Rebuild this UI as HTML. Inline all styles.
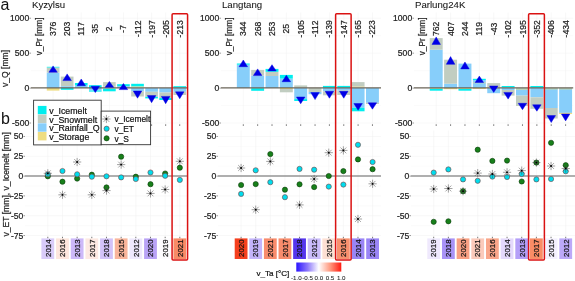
<!DOCTYPE html>
<html><head><meta charset="utf-8"><style>
html,body{margin:0;padding:0;background:#fff;}
body{width:575px;height:281px;overflow:hidden;}
svg{display:block;font-family:"Liberation Sans", sans-serif;will-change:transform;}
text{stroke-width:0.2px;}
</style></head><body>
<svg width="575" height="281" viewBox="0 0 575 281">
<rect width="575" height="281" fill="#fff"/>
<line x1="31" y1="35.7" x2="187" y2="35.7" stroke="#f7f7f7" stroke-width="0.5"/>
<line x1="31" y1="70.63" x2="187" y2="70.63" stroke="#f7f7f7" stroke-width="0.5"/>
<line x1="31" y1="105.57" x2="187" y2="105.57" stroke="#f7f7f7" stroke-width="0.5"/>
<line x1="31" y1="18.23" x2="187" y2="18.23" stroke="#f0f0f0" stroke-width="0.5"/>
<line x1="31" y1="53.16" x2="187" y2="53.16" stroke="#f0f0f0" stroke-width="0.5"/>
<line x1="31" y1="123.03" x2="187" y2="123.03" stroke="#f0f0f0" stroke-width="0.5"/>
<line x1="53.1" y1="12.5" x2="53.1" y2="124.5" stroke="#f0f0f0" stroke-width="0.5"/>
<line x1="67.17" y1="12.5" x2="67.17" y2="124.5" stroke="#f0f0f0" stroke-width="0.5"/>
<line x1="81.24" y1="12.5" x2="81.24" y2="124.5" stroke="#f0f0f0" stroke-width="0.5"/>
<line x1="95.31" y1="12.5" x2="95.31" y2="124.5" stroke="#f0f0f0" stroke-width="0.5"/>
<line x1="109.38" y1="12.5" x2="109.38" y2="124.5" stroke="#f0f0f0" stroke-width="0.5"/>
<line x1="123.45" y1="12.5" x2="123.45" y2="124.5" stroke="#f0f0f0" stroke-width="0.5"/>
<line x1="137.52" y1="12.5" x2="137.52" y2="124.5" stroke="#f0f0f0" stroke-width="0.5"/>
<line x1="151.59" y1="12.5" x2="151.59" y2="124.5" stroke="#f0f0f0" stroke-width="0.5"/>
<line x1="165.66" y1="12.5" x2="165.66" y2="124.5" stroke="#f0f0f0" stroke-width="0.5"/>
<line x1="179.73" y1="12.5" x2="179.73" y2="124.5" stroke="#f0f0f0" stroke-width="0.5"/>
<line x1="25" y1="146.38" x2="188" y2="146.38" stroke="#f7f7f7" stroke-width="0.5"/>
<line x1="25" y1="166.19" x2="188" y2="166.19" stroke="#f7f7f7" stroke-width="0.5"/>
<line x1="25" y1="186.01" x2="188" y2="186.01" stroke="#f7f7f7" stroke-width="0.5"/>
<line x1="25" y1="205.82" x2="188" y2="205.82" stroke="#f7f7f7" stroke-width="0.5"/>
<line x1="25" y1="225.63" x2="188" y2="225.63" stroke="#f7f7f7" stroke-width="0.5"/>
<line x1="25" y1="136.47" x2="188" y2="136.47" stroke="#f0f0f0" stroke-width="0.5"/>
<line x1="25" y1="156.29" x2="188" y2="156.29" stroke="#f0f0f0" stroke-width="0.5"/>
<line x1="25" y1="195.91" x2="188" y2="195.91" stroke="#f0f0f0" stroke-width="0.5"/>
<line x1="25" y1="215.72" x2="188" y2="215.72" stroke="#f0f0f0" stroke-width="0.5"/>
<line x1="25" y1="235.54" x2="188" y2="235.54" stroke="#f0f0f0" stroke-width="0.5"/>
<line x1="47.8" y1="130.5" x2="47.8" y2="237" stroke="#f0f0f0" stroke-width="0.5"/>
<line x1="62.47" y1="130.5" x2="62.47" y2="237" stroke="#f0f0f0" stroke-width="0.5"/>
<line x1="77.14" y1="130.5" x2="77.14" y2="237" stroke="#f0f0f0" stroke-width="0.5"/>
<line x1="91.81" y1="130.5" x2="91.81" y2="237" stroke="#f0f0f0" stroke-width="0.5"/>
<line x1="106.48" y1="130.5" x2="106.48" y2="237" stroke="#f0f0f0" stroke-width="0.5"/>
<line x1="121.15" y1="130.5" x2="121.15" y2="237" stroke="#f0f0f0" stroke-width="0.5"/>
<line x1="135.82" y1="130.5" x2="135.82" y2="237" stroke="#f0f0f0" stroke-width="0.5"/>
<line x1="150.49" y1="130.5" x2="150.49" y2="237" stroke="#f0f0f0" stroke-width="0.5"/>
<line x1="165.16" y1="130.5" x2="165.16" y2="237" stroke="#f0f0f0" stroke-width="0.5"/>
<line x1="179.83" y1="130.5" x2="179.83" y2="237" stroke="#f0f0f0" stroke-width="0.5"/>
<text x="32" y="8.2" font-size="9.65" text-anchor="start" fill="#111" stroke="#111" style="stroke-width:0.05px">Kyzylsu</text>
<line x1="29.4" y1="18.23" x2="31" y2="18.23" stroke="#555555" stroke-width="0.6"/>
<text x="29.2" y="21.23" font-size="8.6" text-anchor="end" fill="#1a1a1a" stroke="#1a1a1a">1000</text>
<line x1="29.4" y1="53.16" x2="31" y2="53.16" stroke="#555555" stroke-width="0.6"/>
<text x="29.2" y="56.16" font-size="8.6" text-anchor="end" fill="#1a1a1a" stroke="#1a1a1a">500</text>
<line x1="29.4" y1="88.1" x2="31" y2="88.1" stroke="#555555" stroke-width="0.6"/>
<text x="29.2" y="91.1" font-size="8.6" text-anchor="end" fill="#1a1a1a" stroke="#1a1a1a">0</text>
<line x1="29.4" y1="123.03" x2="31" y2="123.03" stroke="#555555" stroke-width="0.6"/>
<text x="29.2" y="126.03" font-size="8.6" text-anchor="end" fill="#1a1a1a" stroke="#1a1a1a">-500</text>
<line x1="53.1" y1="124.3" x2="53.1" y2="125.9" stroke="#555555" stroke-width="0.8"/>
<line x1="67.17" y1="124.3" x2="67.17" y2="125.9" stroke="#555555" stroke-width="0.8"/>
<line x1="81.24" y1="124.3" x2="81.24" y2="125.9" stroke="#555555" stroke-width="0.8"/>
<line x1="95.31" y1="124.3" x2="95.31" y2="125.9" stroke="#555555" stroke-width="0.8"/>
<line x1="109.38" y1="124.3" x2="109.38" y2="125.9" stroke="#555555" stroke-width="0.8"/>
<line x1="123.45" y1="124.3" x2="123.45" y2="125.9" stroke="#555555" stroke-width="0.8"/>
<line x1="137.52" y1="124.3" x2="137.52" y2="125.9" stroke="#555555" stroke-width="0.8"/>
<line x1="151.59" y1="124.3" x2="151.59" y2="125.9" stroke="#555555" stroke-width="0.8"/>
<line x1="165.66" y1="124.3" x2="165.66" y2="125.9" stroke="#555555" stroke-width="0.8"/>
<line x1="179.73" y1="124.3" x2="179.73" y2="125.9" stroke="#555555" stroke-width="0.8"/>
<line x1="23.4" y1="136.47" x2="25" y2="136.47" stroke="#555555" stroke-width="0.6"/>
<text x="23.3" y="139.47" font-size="8.6" text-anchor="end" fill="#1a1a1a" stroke="#1a1a1a">50</text>
<line x1="23.4" y1="156.29" x2="25" y2="156.29" stroke="#555555" stroke-width="0.6"/>
<text x="23.3" y="159.29" font-size="8.6" text-anchor="end" fill="#1a1a1a" stroke="#1a1a1a">25</text>
<line x1="23.4" y1="176.1" x2="25" y2="176.1" stroke="#555555" stroke-width="0.6"/>
<text x="23.3" y="179.1" font-size="8.6" text-anchor="end" fill="#1a1a1a" stroke="#1a1a1a">0</text>
<line x1="23.4" y1="195.91" x2="25" y2="195.91" stroke="#555555" stroke-width="0.6"/>
<text x="23.3" y="198.91" font-size="8.6" text-anchor="end" fill="#1a1a1a" stroke="#1a1a1a">-25</text>
<line x1="23.4" y1="215.72" x2="25" y2="215.72" stroke="#555555" stroke-width="0.6"/>
<text x="23.3" y="218.72" font-size="8.6" text-anchor="end" fill="#1a1a1a" stroke="#1a1a1a">-50</text>
<line x1="23.4" y1="235.54" x2="25" y2="235.54" stroke="#555555" stroke-width="0.6"/>
<text x="23.3" y="238.54" font-size="8.6" text-anchor="end" fill="#1a1a1a" stroke="#1a1a1a">-75</text>
<line x1="47.8" y1="236.8" x2="47.8" y2="238.4" stroke="#555555" stroke-width="0.8"/>
<line x1="62.47" y1="236.8" x2="62.47" y2="238.4" stroke="#555555" stroke-width="0.8"/>
<line x1="77.14" y1="236.8" x2="77.14" y2="238.4" stroke="#555555" stroke-width="0.8"/>
<line x1="91.81" y1="236.8" x2="91.81" y2="238.4" stroke="#555555" stroke-width="0.8"/>
<line x1="106.48" y1="236.8" x2="106.48" y2="238.4" stroke="#555555" stroke-width="0.8"/>
<line x1="121.15" y1="236.8" x2="121.15" y2="238.4" stroke="#555555" stroke-width="0.8"/>
<line x1="135.82" y1="236.8" x2="135.82" y2="238.4" stroke="#555555" stroke-width="0.8"/>
<line x1="150.49" y1="236.8" x2="150.49" y2="238.4" stroke="#555555" stroke-width="0.8"/>
<line x1="165.16" y1="236.8" x2="165.16" y2="238.4" stroke="#555555" stroke-width="0.8"/>
<line x1="179.83" y1="236.8" x2="179.83" y2="238.4" stroke="#555555" stroke-width="0.8"/>
<text x="41.93" y="36.4" font-size="8.3" text-anchor="middle" fill="#1a1a1a" stroke="#1a1a1a" transform="rotate(-90 41.93 36.4)">v_Pr [mm]</text>
<text x="56.15" y="28.8" font-size="8.6" text-anchor="middle" fill="#1a1a1a" stroke="#1a1a1a" transform="rotate(-90 56.15 28.8)">376</text>
<text x="70.22" y="28.8" font-size="8.6" text-anchor="middle" fill="#1a1a1a" stroke="#1a1a1a" transform="rotate(-90 70.22 28.8)">203</text>
<text x="84.29" y="28.8" font-size="8.6" text-anchor="middle" fill="#1a1a1a" stroke="#1a1a1a" transform="rotate(-90 84.29 28.8)">117</text>
<text x="98.36" y="28.8" font-size="8.6" text-anchor="middle" fill="#1a1a1a" stroke="#1a1a1a" transform="rotate(-90 98.36 28.8)">35</text>
<text x="112.43" y="28.8" font-size="8.6" text-anchor="middle" fill="#1a1a1a" stroke="#1a1a1a" transform="rotate(-90 112.43 28.8)">2</text>
<text x="126.5" y="28.8" font-size="8.6" text-anchor="middle" fill="#1a1a1a" stroke="#1a1a1a" transform="rotate(-90 126.5 28.8)">-7</text>
<text x="140.57" y="28.8" font-size="8.6" text-anchor="middle" fill="#1a1a1a" stroke="#1a1a1a" transform="rotate(-90 140.57 28.8)">-112</text>
<text x="154.64" y="28.8" font-size="8.6" text-anchor="middle" fill="#1a1a1a" stroke="#1a1a1a" transform="rotate(-90 154.64 28.8)">-197</text>
<text x="168.71" y="28.8" font-size="8.6" text-anchor="middle" fill="#1a1a1a" stroke="#1a1a1a" transform="rotate(-90 168.71 28.8)">-205</text>
<text x="182.78" y="28.8" font-size="8.6" text-anchor="middle" fill="#1a1a1a" stroke="#1a1a1a" transform="rotate(-90 182.78 28.8)">-213</text>
<rect x="46.77" y="72.6" width="12.66" height="15.4" fill="#87CEFA"/>
<rect x="46.77" y="67.5" width="12.66" height="5.1" fill="#C1CDC1"/>
<rect x="46.77" y="66.8" width="12.66" height="0.7" fill="#00EEEE"/>
<rect x="46.77" y="88" width="12.66" height="2.6" fill="#EEDD82"/>
<rect x="60.84" y="86.2" width="12.66" height="1.8" fill="#87CEFA"/>
<rect x="60.84" y="76.6" width="12.66" height="9.6" fill="#C1CDC1"/>
<rect x="60.84" y="88" width="12.66" height="1.8" fill="#00EEEE"/>
<rect x="74.91" y="85.5" width="12.66" height="2.5" fill="#87CEFA"/>
<rect x="74.91" y="83" width="12.66" height="2.5" fill="#00EEEE"/>
<rect x="88.98" y="85.2" width="12.66" height="2.8" fill="#00EEEE"/>
<rect x="88.98" y="88" width="12.66" height="2.5" fill="#87CEFA"/>
<rect x="88.98" y="90.5" width="12.66" height="1.1" fill="#00EEEE"/>
<rect x="103.05" y="82.1" width="12.66" height="4.7" fill="#C1CDC1"/>
<rect x="103.05" y="86.8" width="12.66" height="0.6" fill="#EEDD82"/>
<rect x="103.05" y="88.6" width="12.66" height="2.7" fill="#00EEEE"/>
<rect x="117.12" y="84.2" width="12.66" height="1.8" fill="#00EEEE"/>
<rect x="117.12" y="86" width="12.66" height="2" fill="#87CEFA"/>
<rect x="131.19" y="83.8" width="12.66" height="2.8" fill="#00EEEE"/>
<rect x="131.19" y="86.6" width="12.66" height="0.7" fill="#EEDD82"/>
<rect x="131.19" y="88" width="12.66" height="3.3" fill="#87CEFA"/>
<rect x="131.19" y="91.3" width="12.66" height="5.2" fill="#C1CDC1"/>
<rect x="145.26" y="88" width="12.66" height="3.8" fill="#87CEFA"/>
<rect x="145.26" y="91.8" width="12.66" height="5" fill="#C1CDC1"/>
<rect x="145.26" y="96.8" width="12.66" height="1.6" fill="#00EEEE"/>
<rect x="159.33" y="88" width="12.66" height="4.5" fill="#87CEFA"/>
<rect x="159.33" y="92.5" width="12.66" height="5.5" fill="#C1CDC1"/>
<rect x="159.33" y="98" width="12.66" height="2" fill="#00EEEE"/>
<rect x="173.4" y="86.2" width="12.66" height="1.5" fill="#00EEEE"/>
<rect x="173.4" y="88" width="12.66" height="3.8" fill="#87CEFA"/>
<rect x="173.4" y="91.8" width="12.66" height="3.2" fill="#C1CDC1"/>
<line x1="31" y1="87.9" x2="187" y2="87.9" stroke="#6a6558" stroke-width="1.4"/>
<polygon points="53.1,65.9 48.85,72.3 57.35,72.3" fill="#0000E6" stroke="#0000E6" stroke-width="0.45" stroke-linejoin="round"/>
<polygon points="67.17,73.9 62.92,80.6 71.42,80.6" fill="#0000E6" stroke="#0000E6" stroke-width="0.45" stroke-linejoin="round"/>
<polygon points="81.24,79 76.99,85.7 85.49,85.7" fill="#0000E6" stroke="#0000E6" stroke-width="0.45" stroke-linejoin="round"/>
<polygon points="91.06,86.2 99.56,86.2 95.31,92.6" fill="#0000E6" stroke="#0000E6" stroke-width="0.45" stroke-linejoin="round"/>
<polygon points="109.38,81.4 105.13,87.3 113.63,87.3" fill="#0000E6" stroke="#0000E6" stroke-width="0.45" stroke-linejoin="round"/>
<polygon points="123.45,83.5 119.2,89.6 127.7,89.6" fill="#0000E6" stroke="#0000E6" stroke-width="0.45" stroke-linejoin="round"/>
<polygon points="133.27,91 141.77,91 137.52,98.2" fill="#0000E6" stroke="#0000E6" stroke-width="0.45" stroke-linejoin="round"/>
<polygon points="147.34,95.6 155.84,95.6 151.59,102.7" fill="#0000E6" stroke="#0000E6" stroke-width="0.45" stroke-linejoin="round"/>
<polygon points="161.41,96.4 169.91,96.4 165.66,103.7" fill="#0000E6" stroke="#0000E6" stroke-width="0.45" stroke-linejoin="round"/>
<polygon points="175.48,91.8 183.98,91.8 179.73,98.7" fill="#0000E6" stroke="#0000E6" stroke-width="0.45" stroke-linejoin="round"/>
<line x1="25" y1="176" x2="188" y2="176" stroke="#959595" stroke-width="1.5"/>
<rect x="41.4" y="238.4" width="12.8" height="20.6" fill="#d9ccf9"/>
<text x="50.6" y="248.2" font-size="7.9" text-anchor="middle" fill="#111" stroke="#111" transform="rotate(-90 50.6 248.2)">2014</text>
<rect x="56.07" y="238.4" width="12.8" height="20.6" fill="#fde6dd"/>
<text x="65.27" y="248.2" font-size="7.9" text-anchor="middle" fill="#111" stroke="#111" transform="rotate(-90 65.27 248.2)">2016</text>
<rect x="70.74" y="238.4" width="12.8" height="20.6" fill="#cdb9f9"/>
<text x="79.94" y="248.2" font-size="7.9" text-anchor="middle" fill="#111" stroke="#111" transform="rotate(-90 79.94 248.2)">2013</text>
<rect x="85.41" y="238.4" width="12.8" height="20.6" fill="#fde9e2"/>
<text x="94.61" y="248.2" font-size="7.9" text-anchor="middle" fill="#111" stroke="#111" transform="rotate(-90 94.61 248.2)">2017</text>
<rect x="100.08" y="238.4" width="12.8" height="20.6" fill="#d3c3f9"/>
<text x="109.28" y="248.2" font-size="7.9" text-anchor="middle" fill="#111" stroke="#111" transform="rotate(-90 109.28 248.2)">2018</text>
<rect x="114.75" y="238.4" width="12.8" height="20.6" fill="#f9b59b"/>
<text x="123.95" y="248.2" font-size="7.9" text-anchor="middle" fill="#111" stroke="#111" transform="rotate(-90 123.95 248.2)">2015</text>
<rect x="129.42" y="238.4" width="12.8" height="20.6" fill="#efe9fd"/>
<text x="138.62" y="248.2" font-size="7.9" text-anchor="middle" fill="#111" stroke="#111" transform="rotate(-90 138.62 248.2)">2012</text>
<rect x="144.09" y="238.4" width="12.8" height="20.6" fill="#b9a3f6"/>
<text x="153.29" y="248.2" font-size="7.9" text-anchor="middle" fill="#111" stroke="#111" transform="rotate(-90 153.29 248.2)">2020</text>
<rect x="158.76" y="238.4" width="12.8" height="20.6" fill="#fdfcfe"/>
<text x="167.96" y="248.2" font-size="7.9" text-anchor="middle" fill="#111" stroke="#111" transform="rotate(-90 167.96 248.2)">2019</text>
<rect x="173.43" y="238.4" width="12.8" height="20.6" fill="#f98a66"/>
<text x="182.63" y="248.2" font-size="7.9" text-anchor="middle" fill="#111" stroke="#111" transform="rotate(-90 182.63 248.2)">2021</text>
<circle cx="47.8" cy="176.3" r="2.6" fill="#17801A" stroke="#0a3a0a" stroke-width="0.6"/>
<circle cx="47.8" cy="174.3" r="2.6" fill="#00DDEE" stroke="#7a4040" stroke-width="0.6"/>
<path d="M43.7 173.3L51.9 173.3M44.9 170.4L50.7 176.2M47.8 169.2L47.8 177.4M50.7 170.4L44.9 176.2" stroke="#444" stroke-width="0.5" fill="none"/>
<circle cx="47.8" cy="173.3" r="0.9" fill="#000"/>
<circle cx="62.47" cy="181.7" r="2.6" fill="#17801A" stroke="#0a3a0a" stroke-width="0.6"/>
<circle cx="62.47" cy="171" r="2.6" fill="#00DDEE" stroke="#7a4040" stroke-width="0.6"/>
<path d="M58.37 194.8L66.57 194.8M59.57 191.9L65.37 197.7M62.47 190.7L62.47 198.9M65.37 191.9L59.57 197.7" stroke="#444" stroke-width="0.5" fill="none"/>
<circle cx="62.47" cy="194.8" r="0.9" fill="#000"/>
<circle cx="77.14" cy="178.6" r="2.6" fill="#17801A" stroke="#0a3a0a" stroke-width="0.6"/>
<circle cx="77.14" cy="174.3" r="2.6" fill="#00DDEE" stroke="#7a4040" stroke-width="0.6"/>
<path d="M73.04 162L81.24 162M74.24 159.1L80.04 164.9M77.14 157.9L77.14 166.1M80.04 159.1L74.24 164.9" stroke="#444" stroke-width="0.5" fill="none"/>
<circle cx="77.14" cy="162" r="0.9" fill="#000"/>
<circle cx="91.81" cy="174.7" r="2.6" fill="#17801A" stroke="#0a3a0a" stroke-width="0.6"/>
<circle cx="91.81" cy="176.7" r="2.6" fill="#00DDEE" stroke="#7a4040" stroke-width="0.6"/>
<path d="M87.71 194.8L95.91 194.8M88.91 191.9L94.71 197.7M91.81 190.7L91.81 198.9M94.71 191.9L88.91 197.7" stroke="#444" stroke-width="0.5" fill="none"/>
<circle cx="91.81" cy="194.8" r="0.9" fill="#000"/>
<circle cx="106.48" cy="187.4" r="2.6" fill="#17801A" stroke="#0a3a0a" stroke-width="0.6"/>
<circle cx="106.48" cy="176.3" r="2.6" fill="#00DDEE" stroke="#7a4040" stroke-width="0.6"/>
<path d="M102.38 190.6L110.58 190.6M103.58 187.7L109.38 193.5M106.48 186.5L106.48 194.7M109.38 187.7L103.58 193.5" stroke="#444" stroke-width="0.5" fill="none"/>
<circle cx="106.48" cy="190.6" r="0.9" fill="#000"/>
<circle cx="121.15" cy="156.7" r="2.6" fill="#17801A" stroke="#0a3a0a" stroke-width="0.6"/>
<circle cx="121.15" cy="177.4" r="2.6" fill="#00DDEE" stroke="#7a4040" stroke-width="0.6"/>
<path d="M117.05 164.6L125.25 164.6M118.25 161.7L124.05 167.5M121.15 160.5L121.15 168.7M124.05 161.7L118.25 167.5" stroke="#444" stroke-width="0.5" fill="none"/>
<circle cx="121.15" cy="164.6" r="0.9" fill="#000"/>
<circle cx="135.82" cy="176.7" r="2.6" fill="#17801A" stroke="#0a3a0a" stroke-width="0.6"/>
<circle cx="135.82" cy="179" r="2.6" fill="#00DDEE" stroke="#7a4040" stroke-width="0.6"/>
<circle cx="150.49" cy="184.2" r="2.6" fill="#17801A" stroke="#0a3a0a" stroke-width="0.6"/>
<circle cx="150.49" cy="172.5" r="2.6" fill="#00DDEE" stroke="#7a4040" stroke-width="0.6"/>
<path d="M146.39 193.4L154.59 193.4M147.59 190.5L153.39 196.3M150.49 189.3L150.49 197.5M153.39 190.5L147.59 196.3" stroke="#444" stroke-width="0.5" fill="none"/>
<circle cx="150.49" cy="193.4" r="0.9" fill="#000"/>
<circle cx="165.16" cy="173.5" r="2.6" fill="#17801A" stroke="#0a3a0a" stroke-width="0.6"/>
<circle cx="165.16" cy="175.8" r="2.6" fill="#00DDEE" stroke="#7a4040" stroke-width="0.6"/>
<path d="M161.06 189.5L169.26 189.5M162.26 186.6L168.06 192.4M165.16 185.4L165.16 193.6M168.06 186.6L162.26 192.4" stroke="#444" stroke-width="0.5" fill="none"/>
<circle cx="165.16" cy="189.5" r="0.9" fill="#000"/>
<circle cx="179.83" cy="167.7" r="2.6" fill="#17801A" stroke="#0a3a0a" stroke-width="0.6"/>
<circle cx="179.83" cy="179.9" r="2.6" fill="#00DDEE" stroke="#7a4040" stroke-width="0.6"/>
<path d="M175.73 161.3L183.93 161.3M176.93 158.4L182.73 164.2M179.83 157.2L179.83 165.4M182.73 158.4L176.93 164.2" stroke="#444" stroke-width="0.5" fill="none"/>
<circle cx="179.83" cy="161.3" r="0.9" fill="#000"/>
<rect x="172.08" y="13.7" width="15.5" height="246.2" rx="1" fill="none" stroke="#DA1212" stroke-width="1.5"/>
<line x1="221" y1="35.7" x2="381" y2="35.7" stroke="#f7f7f7" stroke-width="0.5"/>
<line x1="221" y1="70.63" x2="381" y2="70.63" stroke="#f7f7f7" stroke-width="0.5"/>
<line x1="221" y1="105.57" x2="381" y2="105.57" stroke="#f7f7f7" stroke-width="0.5"/>
<line x1="221" y1="18.23" x2="381" y2="18.23" stroke="#f0f0f0" stroke-width="0.5"/>
<line x1="221" y1="53.16" x2="381" y2="53.16" stroke="#f0f0f0" stroke-width="0.5"/>
<line x1="221" y1="123.03" x2="381" y2="123.03" stroke="#f0f0f0" stroke-width="0.5"/>
<line x1="243.3" y1="12.5" x2="243.3" y2="124.5" stroke="#f0f0f0" stroke-width="0.5"/>
<line x1="257.65" y1="12.5" x2="257.65" y2="124.5" stroke="#f0f0f0" stroke-width="0.5"/>
<line x1="272" y1="12.5" x2="272" y2="124.5" stroke="#f0f0f0" stroke-width="0.5"/>
<line x1="286.35" y1="12.5" x2="286.35" y2="124.5" stroke="#f0f0f0" stroke-width="0.5"/>
<line x1="300.7" y1="12.5" x2="300.7" y2="124.5" stroke="#f0f0f0" stroke-width="0.5"/>
<line x1="315.05" y1="12.5" x2="315.05" y2="124.5" stroke="#f0f0f0" stroke-width="0.5"/>
<line x1="329.4" y1="12.5" x2="329.4" y2="124.5" stroke="#f0f0f0" stroke-width="0.5"/>
<line x1="343.75" y1="12.5" x2="343.75" y2="124.5" stroke="#f0f0f0" stroke-width="0.5"/>
<line x1="358.1" y1="12.5" x2="358.1" y2="124.5" stroke="#f0f0f0" stroke-width="0.5"/>
<line x1="372.45" y1="12.5" x2="372.45" y2="124.5" stroke="#f0f0f0" stroke-width="0.5"/>
<line x1="218" y1="146.38" x2="381" y2="146.38" stroke="#f7f7f7" stroke-width="0.5"/>
<line x1="218" y1="166.19" x2="381" y2="166.19" stroke="#f7f7f7" stroke-width="0.5"/>
<line x1="218" y1="186.01" x2="381" y2="186.01" stroke="#f7f7f7" stroke-width="0.5"/>
<line x1="218" y1="205.82" x2="381" y2="205.82" stroke="#f7f7f7" stroke-width="0.5"/>
<line x1="218" y1="225.63" x2="381" y2="225.63" stroke="#f7f7f7" stroke-width="0.5"/>
<line x1="218" y1="136.47" x2="381" y2="136.47" stroke="#f0f0f0" stroke-width="0.5"/>
<line x1="218" y1="156.29" x2="381" y2="156.29" stroke="#f0f0f0" stroke-width="0.5"/>
<line x1="218" y1="195.91" x2="381" y2="195.91" stroke="#f0f0f0" stroke-width="0.5"/>
<line x1="218" y1="215.72" x2="381" y2="215.72" stroke="#f0f0f0" stroke-width="0.5"/>
<line x1="218" y1="235.54" x2="381" y2="235.54" stroke="#f0f0f0" stroke-width="0.5"/>
<line x1="241.1" y1="130.5" x2="241.1" y2="237" stroke="#f0f0f0" stroke-width="0.5"/>
<line x1="255.71" y1="130.5" x2="255.71" y2="237" stroke="#f0f0f0" stroke-width="0.5"/>
<line x1="270.32" y1="130.5" x2="270.32" y2="237" stroke="#f0f0f0" stroke-width="0.5"/>
<line x1="284.93" y1="130.5" x2="284.93" y2="237" stroke="#f0f0f0" stroke-width="0.5"/>
<line x1="299.54" y1="130.5" x2="299.54" y2="237" stroke="#f0f0f0" stroke-width="0.5"/>
<line x1="314.15" y1="130.5" x2="314.15" y2="237" stroke="#f0f0f0" stroke-width="0.5"/>
<line x1="328.76" y1="130.5" x2="328.76" y2="237" stroke="#f0f0f0" stroke-width="0.5"/>
<line x1="343.37" y1="130.5" x2="343.37" y2="237" stroke="#f0f0f0" stroke-width="0.5"/>
<line x1="357.98" y1="130.5" x2="357.98" y2="237" stroke="#f0f0f0" stroke-width="0.5"/>
<line x1="372.59" y1="130.5" x2="372.59" y2="237" stroke="#f0f0f0" stroke-width="0.5"/>
<text x="222" y="8.2" font-size="9.65" text-anchor="start" fill="#111" stroke="#111" style="stroke-width:0.05px">Langtang</text>
<line x1="219.4" y1="18.23" x2="221" y2="18.23" stroke="#555555" stroke-width="0.6"/>
<text x="219.2" y="21.23" font-size="8.6" text-anchor="end" fill="#1a1a1a" stroke="#1a1a1a">1000</text>
<line x1="219.4" y1="53.16" x2="221" y2="53.16" stroke="#555555" stroke-width="0.6"/>
<text x="219.2" y="56.16" font-size="8.6" text-anchor="end" fill="#1a1a1a" stroke="#1a1a1a">500</text>
<line x1="219.4" y1="88.1" x2="221" y2="88.1" stroke="#555555" stroke-width="0.6"/>
<text x="219.2" y="91.1" font-size="8.6" text-anchor="end" fill="#1a1a1a" stroke="#1a1a1a">0</text>
<line x1="219.4" y1="123.03" x2="221" y2="123.03" stroke="#555555" stroke-width="0.6"/>
<text x="219.2" y="126.03" font-size="8.6" text-anchor="end" fill="#1a1a1a" stroke="#1a1a1a">-500</text>
<line x1="243.3" y1="124.3" x2="243.3" y2="125.9" stroke="#555555" stroke-width="0.8"/>
<line x1="257.65" y1="124.3" x2="257.65" y2="125.9" stroke="#555555" stroke-width="0.8"/>
<line x1="272" y1="124.3" x2="272" y2="125.9" stroke="#555555" stroke-width="0.8"/>
<line x1="286.35" y1="124.3" x2="286.35" y2="125.9" stroke="#555555" stroke-width="0.8"/>
<line x1="300.7" y1="124.3" x2="300.7" y2="125.9" stroke="#555555" stroke-width="0.8"/>
<line x1="315.05" y1="124.3" x2="315.05" y2="125.9" stroke="#555555" stroke-width="0.8"/>
<line x1="329.4" y1="124.3" x2="329.4" y2="125.9" stroke="#555555" stroke-width="0.8"/>
<line x1="343.75" y1="124.3" x2="343.75" y2="125.9" stroke="#555555" stroke-width="0.8"/>
<line x1="358.1" y1="124.3" x2="358.1" y2="125.9" stroke="#555555" stroke-width="0.8"/>
<line x1="372.45" y1="124.3" x2="372.45" y2="125.9" stroke="#555555" stroke-width="0.8"/>
<line x1="216.4" y1="136.47" x2="218" y2="136.47" stroke="#555555" stroke-width="0.6"/>
<text x="216.3" y="139.47" font-size="8.6" text-anchor="end" fill="#1a1a1a" stroke="#1a1a1a">50</text>
<line x1="216.4" y1="156.29" x2="218" y2="156.29" stroke="#555555" stroke-width="0.6"/>
<text x="216.3" y="159.29" font-size="8.6" text-anchor="end" fill="#1a1a1a" stroke="#1a1a1a">25</text>
<line x1="216.4" y1="176.1" x2="218" y2="176.1" stroke="#555555" stroke-width="0.6"/>
<text x="216.3" y="179.1" font-size="8.6" text-anchor="end" fill="#1a1a1a" stroke="#1a1a1a">0</text>
<line x1="216.4" y1="195.91" x2="218" y2="195.91" stroke="#555555" stroke-width="0.6"/>
<text x="216.3" y="198.91" font-size="8.6" text-anchor="end" fill="#1a1a1a" stroke="#1a1a1a">-25</text>
<line x1="216.4" y1="215.72" x2="218" y2="215.72" stroke="#555555" stroke-width="0.6"/>
<text x="216.3" y="218.72" font-size="8.6" text-anchor="end" fill="#1a1a1a" stroke="#1a1a1a">-50</text>
<line x1="216.4" y1="235.54" x2="218" y2="235.54" stroke="#555555" stroke-width="0.6"/>
<text x="216.3" y="238.54" font-size="8.6" text-anchor="end" fill="#1a1a1a" stroke="#1a1a1a">-75</text>
<line x1="241.1" y1="236.8" x2="241.1" y2="238.4" stroke="#555555" stroke-width="0.8"/>
<line x1="255.71" y1="236.8" x2="255.71" y2="238.4" stroke="#555555" stroke-width="0.8"/>
<line x1="270.32" y1="236.8" x2="270.32" y2="238.4" stroke="#555555" stroke-width="0.8"/>
<line x1="284.93" y1="236.8" x2="284.93" y2="238.4" stroke="#555555" stroke-width="0.8"/>
<line x1="299.54" y1="236.8" x2="299.54" y2="238.4" stroke="#555555" stroke-width="0.8"/>
<line x1="314.15" y1="236.8" x2="314.15" y2="238.4" stroke="#555555" stroke-width="0.8"/>
<line x1="328.76" y1="236.8" x2="328.76" y2="238.4" stroke="#555555" stroke-width="0.8"/>
<line x1="343.37" y1="236.8" x2="343.37" y2="238.4" stroke="#555555" stroke-width="0.8"/>
<line x1="357.98" y1="236.8" x2="357.98" y2="238.4" stroke="#555555" stroke-width="0.8"/>
<line x1="372.59" y1="236.8" x2="372.59" y2="238.4" stroke="#555555" stroke-width="0.8"/>
<text x="231.85" y="36.4" font-size="8.3" text-anchor="middle" fill="#1a1a1a" stroke="#1a1a1a" transform="rotate(-90 231.85 36.4)">v_Pr [mm]</text>
<text x="246.35" y="28.8" font-size="8.6" text-anchor="middle" fill="#1a1a1a" stroke="#1a1a1a" transform="rotate(-90 246.35 28.8)">344</text>
<text x="260.7" y="28.8" font-size="8.6" text-anchor="middle" fill="#1a1a1a" stroke="#1a1a1a" transform="rotate(-90 260.7 28.8)">268</text>
<text x="275.05" y="28.8" font-size="8.6" text-anchor="middle" fill="#1a1a1a" stroke="#1a1a1a" transform="rotate(-90 275.05 28.8)">253</text>
<text x="289.4" y="28.8" font-size="8.6" text-anchor="middle" fill="#1a1a1a" stroke="#1a1a1a" transform="rotate(-90 289.4 28.8)">25</text>
<text x="303.75" y="28.8" font-size="8.6" text-anchor="middle" fill="#1a1a1a" stroke="#1a1a1a" transform="rotate(-90 303.75 28.8)">-105</text>
<text x="318.1" y="28.8" font-size="8.6" text-anchor="middle" fill="#1a1a1a" stroke="#1a1a1a" transform="rotate(-90 318.1 28.8)">-112</text>
<text x="332.45" y="28.8" font-size="8.6" text-anchor="middle" fill="#1a1a1a" stroke="#1a1a1a" transform="rotate(-90 332.45 28.8)">-139</text>
<text x="346.8" y="28.8" font-size="8.6" text-anchor="middle" fill="#1a1a1a" stroke="#1a1a1a" transform="rotate(-90 346.8 28.8)">-147</text>
<text x="361.15" y="28.8" font-size="8.6" text-anchor="middle" fill="#1a1a1a" stroke="#1a1a1a" transform="rotate(-90 361.15 28.8)">-165</text>
<text x="375.5" y="28.8" font-size="8.6" text-anchor="middle" fill="#1a1a1a" stroke="#1a1a1a" transform="rotate(-90 375.5 28.8)">-223</text>
<rect x="236.84" y="64.7" width="12.91" height="23.3" fill="#87CEFA"/>
<rect x="236.84" y="63.5" width="12.91" height="1.2" fill="#00EEEE"/>
<rect x="251.19" y="75.6" width="12.91" height="12.4" fill="#87CEFA"/>
<rect x="251.19" y="69.9" width="12.91" height="5.7" fill="#C1CDC1"/>
<rect x="251.19" y="88.2" width="12.91" height="2.6" fill="#00EEEE"/>
<rect x="265.54" y="76" width="12.91" height="12" fill="#87CEFA"/>
<rect x="265.54" y="71.8" width="12.91" height="4.2" fill="#C1CDC1"/>
<rect x="265.54" y="68.9" width="12.91" height="2.9" fill="#00EEEE"/>
<rect x="279.89" y="78.6" width="12.91" height="9.4" fill="#87CEFA"/>
<rect x="279.89" y="74.9" width="12.91" height="3.7" fill="#00EEEE"/>
<rect x="279.89" y="88" width="12.91" height="1" fill="#EEDD82"/>
<rect x="279.89" y="89" width="12.91" height="3.3" fill="#C1CDC1"/>
<rect x="294.24" y="85.4" width="12.91" height="2.4" fill="#C1CDC1"/>
<rect x="294.24" y="88" width="12.91" height="11.1" fill="#87CEFA"/>
<rect x="294.24" y="99.1" width="12.91" height="1.9" fill="#00EEEE"/>
<rect x="308.59" y="88" width="12.91" height="4" fill="#C1CDC1"/>
<rect x="308.59" y="92" width="12.91" height="2.2" fill="#87CEFA"/>
<rect x="322.94" y="85.9" width="12.91" height="1.9" fill="#00EEEE"/>
<rect x="322.94" y="88" width="12.91" height="3.3" fill="#87CEFA"/>
<rect x="322.94" y="91.3" width="12.91" height="4" fill="#C1CDC1"/>
<rect x="337.29" y="85.9" width="12.91" height="1.9" fill="#00EEEE"/>
<rect x="337.29" y="88" width="12.91" height="2.6" fill="#87CEFA"/>
<rect x="337.29" y="90.6" width="12.91" height="4.4" fill="#C1CDC1"/>
<rect x="351.64" y="82.1" width="12.91" height="4.6" fill="#C1CDC1"/>
<rect x="351.64" y="86.7" width="12.91" height="0.6" fill="#EEDD82"/>
<rect x="351.64" y="88" width="12.91" height="19.8" fill="#87CEFA"/>
<rect x="351.64" y="107.8" width="12.91" height="3.5" fill="#00EEEE"/>
<rect x="365.99" y="88" width="12.91" height="14.8" fill="#87CEFA"/>
<rect x="365.99" y="102.8" width="12.91" height="1.2" fill="#C1CDC1"/>
<line x1="221" y1="87.9" x2="381" y2="87.9" stroke="#6a6558" stroke-width="1.4"/>
<polygon points="243.3,60 239.05,66.7 247.55,66.7" fill="#0000E6" stroke="#0000E6" stroke-width="0.45" stroke-linejoin="round"/>
<polygon points="257.65,68.9 253.4,75.6 261.9,75.6" fill="#0000E6" stroke="#0000E6" stroke-width="0.45" stroke-linejoin="round"/>
<polygon points="272,64.7 267.75,70.9 276.25,70.9" fill="#0000E6" stroke="#0000E6" stroke-width="0.45" stroke-linejoin="round"/>
<polygon points="286.35,75.2 282.1,81.7 290.6,81.7" fill="#0000E6" stroke="#0000E6" stroke-width="0.45" stroke-linejoin="round"/>
<polygon points="296.45,97 304.95,97 300.7,103.8" fill="#0000E6" stroke="#0000E6" stroke-width="0.45" stroke-linejoin="round"/>
<polygon points="310.8,92.5 319.3,92.5 315.05,99.6" fill="#0000E6" stroke="#0000E6" stroke-width="0.45" stroke-linejoin="round"/>
<polygon points="325.15,91.3 333.65,91.3 329.4,98.2" fill="#0000E6" stroke="#0000E6" stroke-width="0.45" stroke-linejoin="round"/>
<polygon points="339.5,91.3 348,91.3 343.75,98.2" fill="#0000E6" stroke="#0000E6" stroke-width="0.45" stroke-linejoin="round"/>
<polygon points="353.85,103.5 362.35,103.5 358.1,110.3" fill="#0000E6" stroke="#0000E6" stroke-width="0.45" stroke-linejoin="round"/>
<polygon points="368.2,102.8 376.7,102.8 372.45,109.2" fill="#0000E6" stroke="#0000E6" stroke-width="0.45" stroke-linejoin="round"/>
<line x1="218" y1="176" x2="381" y2="176" stroke="#959595" stroke-width="1.5"/>
<rect x="234.7" y="238.4" width="12.8" height="20.6" fill="#f5401e"/>
<text x="243.9" y="248.2" font-size="7.9" text-anchor="middle" fill="#111" stroke="#111" transform="rotate(-90 243.9 248.2)">2020</text>
<rect x="249.31" y="238.4" width="12.8" height="20.6" fill="#c3b4fb"/>
<text x="258.51" y="248.2" font-size="7.9" text-anchor="middle" fill="#111" stroke="#111" transform="rotate(-90 258.51 248.2)">2019</text>
<rect x="263.92" y="238.4" width="12.8" height="20.6" fill="#f88c6c"/>
<text x="273.12" y="248.2" font-size="7.9" text-anchor="middle" fill="#111" stroke="#111" transform="rotate(-90 273.12 248.2)">2021</text>
<rect x="278.53" y="238.4" width="12.8" height="20.6" fill="#f88c6c"/>
<text x="287.73" y="248.2" font-size="7.9" text-anchor="middle" fill="#111" stroke="#111" transform="rotate(-90 287.73 248.2)">2017</text>
<rect x="293.14" y="238.4" width="12.8" height="20.6" fill="#5535ee"/>
<text x="302.34" y="248.2" font-size="7.9" text-anchor="middle" fill="#111" stroke="#111" transform="rotate(-90 302.34 248.2)">2018</text>
<rect x="307.75" y="238.4" width="12.8" height="20.6" fill="#cbbdfb"/>
<text x="316.95" y="248.2" font-size="7.9" text-anchor="middle" fill="#111" stroke="#111" transform="rotate(-90 316.95 248.2)">2012</text>
<rect x="322.36" y="238.4" width="12.8" height="20.6" fill="#fde0d4"/>
<text x="331.56" y="248.2" font-size="7.9" text-anchor="middle" fill="#111" stroke="#111" transform="rotate(-90 331.56 248.2)">2015</text>
<rect x="336.97" y="238.4" width="12.8" height="20.6" fill="#f8906e"/>
<text x="346.17" y="248.2" font-size="7.9" text-anchor="middle" fill="#111" stroke="#111" transform="rotate(-90 346.17 248.2)">2016</text>
<rect x="351.58" y="238.4" width="12.8" height="20.6" fill="#9a85f6"/>
<text x="360.78" y="248.2" font-size="7.9" text-anchor="middle" fill="#111" stroke="#111" transform="rotate(-90 360.78 248.2)">2014</text>
<rect x="366.19" y="238.4" width="12.8" height="20.6" fill="#9a85f6"/>
<text x="375.39" y="248.2" font-size="7.9" text-anchor="middle" fill="#111" stroke="#111" transform="rotate(-90 375.39 248.2)">2013</text>
<circle cx="241.1" cy="185" r="2.6" fill="#17801A" stroke="#0a3a0a" stroke-width="0.6"/>
<circle cx="241.1" cy="193.9" r="2.6" fill="#00DDEE" stroke="#7a4040" stroke-width="0.6"/>
<path d="M237 168L245.2 168M238.2 165.1L244 170.9M241.1 163.9L241.1 172.1M244 165.1L238.2 170.9" stroke="#444" stroke-width="0.5" fill="none"/>
<circle cx="241.1" cy="168" r="0.9" fill="#000"/>
<circle cx="255.71" cy="184.1" r="2.6" fill="#17801A" stroke="#0a3a0a" stroke-width="0.6"/>
<circle cx="255.71" cy="170.3" r="2.6" fill="#00DDEE" stroke="#7a4040" stroke-width="0.6"/>
<path d="M251.61 209.7L259.81 209.7M252.81 206.8L258.61 212.6M255.71 205.6L255.71 213.8M258.61 206.8L252.81 212.6" stroke="#444" stroke-width="0.5" fill="none"/>
<circle cx="255.71" cy="209.7" r="0.9" fill="#000"/>
<circle cx="270.32" cy="154.1" r="2.6" fill="#17801A" stroke="#0a3a0a" stroke-width="0.6"/>
<circle cx="270.32" cy="182.2" r="2.6" fill="#00DDEE" stroke="#7a4040" stroke-width="0.6"/>
<path d="M266.22 161.4L274.42 161.4M267.42 158.5L273.22 164.3M270.32 157.3L270.32 165.5M273.22 158.5L267.42 164.3" stroke="#444" stroke-width="0.5" fill="none"/>
<circle cx="270.32" cy="161.4" r="0.9" fill="#000"/>
<circle cx="284.93" cy="189.7" r="2.6" fill="#17801A" stroke="#0a3a0a" stroke-width="0.6"/>
<circle cx="284.93" cy="197.2" r="2.6" fill="#00DDEE" stroke="#7a4040" stroke-width="0.6"/>
<circle cx="299.54" cy="184.3" r="2.6" fill="#17801A" stroke="#0a3a0a" stroke-width="0.6"/>
<circle cx="299.54" cy="168.9" r="2.6" fill="#00DDEE" stroke="#7a4040" stroke-width="0.6"/>
<path d="M295.44 204.9L303.64 204.9M296.64 202L302.44 207.8M299.54 200.8L299.54 209M302.44 202L296.64 207.8" stroke="#444" stroke-width="0.5" fill="none"/>
<circle cx="299.54" cy="204.9" r="0.9" fill="#000"/>
<circle cx="314.15" cy="187.1" r="2.6" fill="#17801A" stroke="#0a3a0a" stroke-width="0.6"/>
<circle cx="314.15" cy="169.7" r="2.6" fill="#00DDEE" stroke="#7a4040" stroke-width="0.6"/>
<path d="M310.05 179L318.25 179M311.25 176.1L317.05 181.9M314.15 174.9L314.15 183.1M317.05 176.1L311.25 181.9" stroke="#444" stroke-width="0.5" fill="none"/>
<circle cx="314.15" cy="179" r="0.9" fill="#000"/>
<circle cx="328.76" cy="176" r="2.6" fill="#17801A" stroke="#0a3a0a" stroke-width="0.6"/>
<circle cx="328.76" cy="186.6" r="2.6" fill="#00DDEE" stroke="#7a4040" stroke-width="0.6"/>
<path d="M324.66 152.7L332.86 152.7M325.86 149.8L331.66 155.6M328.76 148.6L328.76 156.8M331.66 149.8L325.86 155.6" stroke="#444" stroke-width="0.5" fill="none"/>
<circle cx="328.76" cy="152.7" r="0.9" fill="#000"/>
<circle cx="343.37" cy="171.1" r="2.6" fill="#17801A" stroke="#0a3a0a" stroke-width="0.6"/>
<circle cx="343.37" cy="184.6" r="2.6" fill="#00DDEE" stroke="#7a4040" stroke-width="0.6"/>
<path d="M339.27 150.4L347.47 150.4M340.47 147.5L346.27 153.3M343.37 146.3L343.37 154.5M346.27 147.5L340.47 153.3" stroke="#444" stroke-width="0.5" fill="none"/>
<circle cx="343.37" cy="150.4" r="0.9" fill="#000"/>
<circle cx="357.98" cy="159.4" r="2.6" fill="#17801A" stroke="#0a3a0a" stroke-width="0.6"/>
<circle cx="357.98" cy="144.8" r="2.6" fill="#00DDEE" stroke="#7a4040" stroke-width="0.6"/>
<path d="M353.88 219L362.08 219M355.08 216.1L360.88 221.9M357.98 214.9L357.98 223.1M360.88 216.1L355.08 221.9" stroke="#444" stroke-width="0.5" fill="none"/>
<circle cx="357.98" cy="219" r="0.9" fill="#000"/>
<circle cx="372.59" cy="169.2" r="2.6" fill="#17801A" stroke="#0a3a0a" stroke-width="0.6"/>
<circle cx="372.59" cy="162" r="2.6" fill="#00DDEE" stroke="#7a4040" stroke-width="0.6"/>
<path d="M368.49 183.8L376.69 183.8M369.69 180.9L375.49 186.7M372.59 179.7L372.59 187.9M375.49 180.9L369.69 186.7" stroke="#444" stroke-width="0.5" fill="none"/>
<circle cx="372.59" cy="183.8" r="0.9" fill="#000"/>
<rect x="335.62" y="13.7" width="15.5" height="246.2" rx="1" fill="none" stroke="#DA1212" stroke-width="1.5"/>
<line x1="414" y1="35.7" x2="573.2" y2="35.7" stroke="#f7f7f7" stroke-width="0.5"/>
<line x1="414" y1="70.63" x2="573.2" y2="70.63" stroke="#f7f7f7" stroke-width="0.5"/>
<line x1="414" y1="105.57" x2="573.2" y2="105.57" stroke="#f7f7f7" stroke-width="0.5"/>
<line x1="414" y1="18.23" x2="573.2" y2="18.23" stroke="#f0f0f0" stroke-width="0.5"/>
<line x1="414" y1="53.16" x2="573.2" y2="53.16" stroke="#f0f0f0" stroke-width="0.5"/>
<line x1="414" y1="123.03" x2="573.2" y2="123.03" stroke="#f0f0f0" stroke-width="0.5"/>
<line x1="436.2" y1="12.5" x2="436.2" y2="124.5" stroke="#f0f0f0" stroke-width="0.5"/>
<line x1="450.58" y1="12.5" x2="450.58" y2="124.5" stroke="#f0f0f0" stroke-width="0.5"/>
<line x1="464.96" y1="12.5" x2="464.96" y2="124.5" stroke="#f0f0f0" stroke-width="0.5"/>
<line x1="479.34" y1="12.5" x2="479.34" y2="124.5" stroke="#f0f0f0" stroke-width="0.5"/>
<line x1="493.72" y1="12.5" x2="493.72" y2="124.5" stroke="#f0f0f0" stroke-width="0.5"/>
<line x1="508.1" y1="12.5" x2="508.1" y2="124.5" stroke="#f0f0f0" stroke-width="0.5"/>
<line x1="522.48" y1="12.5" x2="522.48" y2="124.5" stroke="#f0f0f0" stroke-width="0.5"/>
<line x1="536.86" y1="12.5" x2="536.86" y2="124.5" stroke="#f0f0f0" stroke-width="0.5"/>
<line x1="551.24" y1="12.5" x2="551.24" y2="124.5" stroke="#f0f0f0" stroke-width="0.5"/>
<line x1="565.62" y1="12.5" x2="565.62" y2="124.5" stroke="#f0f0f0" stroke-width="0.5"/>
<line x1="411" y1="146.38" x2="575" y2="146.38" stroke="#f7f7f7" stroke-width="0.5"/>
<line x1="411" y1="166.19" x2="575" y2="166.19" stroke="#f7f7f7" stroke-width="0.5"/>
<line x1="411" y1="186.01" x2="575" y2="186.01" stroke="#f7f7f7" stroke-width="0.5"/>
<line x1="411" y1="205.82" x2="575" y2="205.82" stroke="#f7f7f7" stroke-width="0.5"/>
<line x1="411" y1="225.63" x2="575" y2="225.63" stroke="#f7f7f7" stroke-width="0.5"/>
<line x1="411" y1="136.47" x2="575" y2="136.47" stroke="#f0f0f0" stroke-width="0.5"/>
<line x1="411" y1="156.29" x2="575" y2="156.29" stroke="#f0f0f0" stroke-width="0.5"/>
<line x1="411" y1="195.91" x2="575" y2="195.91" stroke="#f0f0f0" stroke-width="0.5"/>
<line x1="411" y1="215.72" x2="575" y2="215.72" stroke="#f0f0f0" stroke-width="0.5"/>
<line x1="411" y1="235.54" x2="575" y2="235.54" stroke="#f0f0f0" stroke-width="0.5"/>
<line x1="433.7" y1="130.5" x2="433.7" y2="237" stroke="#f0f0f0" stroke-width="0.5"/>
<line x1="448.37" y1="130.5" x2="448.37" y2="237" stroke="#f0f0f0" stroke-width="0.5"/>
<line x1="463.04" y1="130.5" x2="463.04" y2="237" stroke="#f0f0f0" stroke-width="0.5"/>
<line x1="477.71" y1="130.5" x2="477.71" y2="237" stroke="#f0f0f0" stroke-width="0.5"/>
<line x1="492.38" y1="130.5" x2="492.38" y2="237" stroke="#f0f0f0" stroke-width="0.5"/>
<line x1="507.05" y1="130.5" x2="507.05" y2="237" stroke="#f0f0f0" stroke-width="0.5"/>
<line x1="521.72" y1="130.5" x2="521.72" y2="237" stroke="#f0f0f0" stroke-width="0.5"/>
<line x1="536.39" y1="130.5" x2="536.39" y2="237" stroke="#f0f0f0" stroke-width="0.5"/>
<line x1="551.06" y1="130.5" x2="551.06" y2="237" stroke="#f0f0f0" stroke-width="0.5"/>
<line x1="565.73" y1="130.5" x2="565.73" y2="237" stroke="#f0f0f0" stroke-width="0.5"/>
<text x="415" y="8.2" font-size="9.65" text-anchor="start" fill="#111" stroke="#111" style="stroke-width:0.05px">Parlung24K</text>
<line x1="412.4" y1="18.23" x2="414" y2="18.23" stroke="#555555" stroke-width="0.6"/>
<text x="412.2" y="21.23" font-size="8.6" text-anchor="end" fill="#1a1a1a" stroke="#1a1a1a">1000</text>
<line x1="412.4" y1="53.16" x2="414" y2="53.16" stroke="#555555" stroke-width="0.6"/>
<text x="412.2" y="56.16" font-size="8.6" text-anchor="end" fill="#1a1a1a" stroke="#1a1a1a">500</text>
<line x1="412.4" y1="88.1" x2="414" y2="88.1" stroke="#555555" stroke-width="0.6"/>
<text x="412.2" y="91.1" font-size="8.6" text-anchor="end" fill="#1a1a1a" stroke="#1a1a1a">0</text>
<line x1="412.4" y1="123.03" x2="414" y2="123.03" stroke="#555555" stroke-width="0.6"/>
<text x="412.2" y="126.03" font-size="8.6" text-anchor="end" fill="#1a1a1a" stroke="#1a1a1a">-500</text>
<line x1="436.2" y1="124.3" x2="436.2" y2="125.9" stroke="#555555" stroke-width="0.8"/>
<line x1="450.58" y1="124.3" x2="450.58" y2="125.9" stroke="#555555" stroke-width="0.8"/>
<line x1="464.96" y1="124.3" x2="464.96" y2="125.9" stroke="#555555" stroke-width="0.8"/>
<line x1="479.34" y1="124.3" x2="479.34" y2="125.9" stroke="#555555" stroke-width="0.8"/>
<line x1="493.72" y1="124.3" x2="493.72" y2="125.9" stroke="#555555" stroke-width="0.8"/>
<line x1="508.1" y1="124.3" x2="508.1" y2="125.9" stroke="#555555" stroke-width="0.8"/>
<line x1="522.48" y1="124.3" x2="522.48" y2="125.9" stroke="#555555" stroke-width="0.8"/>
<line x1="536.86" y1="124.3" x2="536.86" y2="125.9" stroke="#555555" stroke-width="0.8"/>
<line x1="551.24" y1="124.3" x2="551.24" y2="125.9" stroke="#555555" stroke-width="0.8"/>
<line x1="565.62" y1="124.3" x2="565.62" y2="125.9" stroke="#555555" stroke-width="0.8"/>
<line x1="409.4" y1="136.47" x2="411" y2="136.47" stroke="#555555" stroke-width="0.6"/>
<text x="409.3" y="139.47" font-size="8.6" text-anchor="end" fill="#1a1a1a" stroke="#1a1a1a">50</text>
<line x1="409.4" y1="156.29" x2="411" y2="156.29" stroke="#555555" stroke-width="0.6"/>
<text x="409.3" y="159.29" font-size="8.6" text-anchor="end" fill="#1a1a1a" stroke="#1a1a1a">25</text>
<line x1="409.4" y1="176.1" x2="411" y2="176.1" stroke="#555555" stroke-width="0.6"/>
<text x="409.3" y="179.1" font-size="8.6" text-anchor="end" fill="#1a1a1a" stroke="#1a1a1a">0</text>
<line x1="409.4" y1="195.91" x2="411" y2="195.91" stroke="#555555" stroke-width="0.6"/>
<text x="409.3" y="198.91" font-size="8.6" text-anchor="end" fill="#1a1a1a" stroke="#1a1a1a">-25</text>
<line x1="409.4" y1="215.72" x2="411" y2="215.72" stroke="#555555" stroke-width="0.6"/>
<text x="409.3" y="218.72" font-size="8.6" text-anchor="end" fill="#1a1a1a" stroke="#1a1a1a">-50</text>
<line x1="409.4" y1="235.54" x2="411" y2="235.54" stroke="#555555" stroke-width="0.6"/>
<text x="409.3" y="238.54" font-size="8.6" text-anchor="end" fill="#1a1a1a" stroke="#1a1a1a">-75</text>
<line x1="433.7" y1="236.8" x2="433.7" y2="238.4" stroke="#555555" stroke-width="0.8"/>
<line x1="448.37" y1="236.8" x2="448.37" y2="238.4" stroke="#555555" stroke-width="0.8"/>
<line x1="463.04" y1="236.8" x2="463.04" y2="238.4" stroke="#555555" stroke-width="0.8"/>
<line x1="477.71" y1="236.8" x2="477.71" y2="238.4" stroke="#555555" stroke-width="0.8"/>
<line x1="492.38" y1="236.8" x2="492.38" y2="238.4" stroke="#555555" stroke-width="0.8"/>
<line x1="507.05" y1="236.8" x2="507.05" y2="238.4" stroke="#555555" stroke-width="0.8"/>
<line x1="521.72" y1="236.8" x2="521.72" y2="238.4" stroke="#555555" stroke-width="0.8"/>
<line x1="536.39" y1="236.8" x2="536.39" y2="238.4" stroke="#555555" stroke-width="0.8"/>
<line x1="551.06" y1="236.8" x2="551.06" y2="238.4" stroke="#555555" stroke-width="0.8"/>
<line x1="565.73" y1="236.8" x2="565.73" y2="238.4" stroke="#555555" stroke-width="0.8"/>
<text x="424.72" y="36.4" font-size="8.3" text-anchor="middle" fill="#1a1a1a" stroke="#1a1a1a" transform="rotate(-90 424.72 36.4)">v_Pr [mm]</text>
<text x="439.25" y="28.8" font-size="8.6" text-anchor="middle" fill="#1a1a1a" stroke="#1a1a1a" transform="rotate(-90 439.25 28.8)">762</text>
<text x="453.63" y="28.8" font-size="8.6" text-anchor="middle" fill="#1a1a1a" stroke="#1a1a1a" transform="rotate(-90 453.63 28.8)">407</text>
<text x="468.01" y="28.8" font-size="8.6" text-anchor="middle" fill="#1a1a1a" stroke="#1a1a1a" transform="rotate(-90 468.01 28.8)">244</text>
<text x="482.39" y="28.8" font-size="8.6" text-anchor="middle" fill="#1a1a1a" stroke="#1a1a1a" transform="rotate(-90 482.39 28.8)">119</text>
<text x="496.77" y="28.8" font-size="8.6" text-anchor="middle" fill="#1a1a1a" stroke="#1a1a1a" transform="rotate(-90 496.77 28.8)">-43</text>
<text x="511.15" y="28.8" font-size="8.6" text-anchor="middle" fill="#1a1a1a" stroke="#1a1a1a" transform="rotate(-90 511.15 28.8)">-102</text>
<text x="525.53" y="28.8" font-size="8.6" text-anchor="middle" fill="#1a1a1a" stroke="#1a1a1a" transform="rotate(-90 525.53 28.8)">-195</text>
<text x="539.91" y="28.8" font-size="8.6" text-anchor="middle" fill="#1a1a1a" stroke="#1a1a1a" transform="rotate(-90 539.91 28.8)">-352</text>
<text x="554.29" y="28.8" font-size="8.6" text-anchor="middle" fill="#1a1a1a" stroke="#1a1a1a" transform="rotate(-90 554.29 28.8)">-406</text>
<text x="568.67" y="28.8" font-size="8.6" text-anchor="middle" fill="#1a1a1a" stroke="#1a1a1a" transform="rotate(-90 568.67 28.8)">-434</text>
<rect x="429.73" y="49.7" width="12.94" height="38.3" fill="#87CEFA"/>
<rect x="429.73" y="38.1" width="12.94" height="11.6" fill="#C1CDC1"/>
<rect x="429.73" y="88" width="12.94" height="0.8" fill="#EEDD82"/>
<rect x="429.73" y="88.8" width="12.94" height="1.9" fill="#00EEEE"/>
<rect x="444.11" y="83.7" width="12.94" height="4.3" fill="#87CEFA"/>
<rect x="444.11" y="59.7" width="12.94" height="24" fill="#C1CDC1"/>
<rect x="444.11" y="88" width="12.94" height="1.2" fill="#EEDD82"/>
<rect x="458.49" y="63.6" width="12.94" height="24.4" fill="#87CEFA"/>
<rect x="458.49" y="88" width="12.94" height="0.9" fill="#EEDD82"/>
<rect x="458.49" y="88.9" width="12.94" height="1.8" fill="#00EEEE"/>
<rect x="472.87" y="80" width="12.94" height="8" fill="#87CEFA"/>
<rect x="472.87" y="78.8" width="12.94" height="1.2" fill="#00EEEE"/>
<rect x="472.87" y="82.6" width="12.94" height="0.6" fill="#EEDD82"/>
<rect x="472.87" y="88" width="12.94" height="0.9" fill="#EEDD82"/>
<rect x="487.25" y="83.1" width="12.94" height="4.5" fill="#C1CDC1"/>
<rect x="487.25" y="88" width="12.94" height="5.2" fill="#87CEFA"/>
<rect x="501.63" y="86" width="12.94" height="1.4" fill="#00EEEE"/>
<rect x="501.63" y="88" width="12.94" height="2" fill="#87CEFA"/>
<rect x="501.63" y="90" width="12.94" height="5.6" fill="#C1CDC1"/>
<rect x="516.01" y="88" width="12.94" height="7.6" fill="#87CEFA"/>
<rect x="516.01" y="88.5" width="12.94" height="1" fill="#EEDD82"/>
<rect x="516.01" y="95.6" width="12.94" height="10.4" fill="#C1CDC1"/>
<rect x="530.39" y="86" width="12.94" height="1.7" fill="#00EEEE"/>
<rect x="530.39" y="88" width="12.94" height="9.3" fill="#87CEFA"/>
<rect x="530.39" y="97.3" width="12.94" height="11.5" fill="#C1CDC1"/>
<rect x="544.77" y="88" width="12.94" height="20" fill="#87CEFA"/>
<rect x="544.77" y="88.5" width="12.94" height="0.8" fill="#EEDD82"/>
<rect x="544.77" y="108" width="12.94" height="10.5" fill="#C1CDC1"/>
<rect x="559.15" y="88" width="12.94" height="24.9" fill="#87CEFA"/>
<rect x="559.15" y="88.5" width="12.94" height="0.8" fill="#EEDD82"/>
<rect x="559.15" y="112.9" width="12.94" height="1.1" fill="#EEDD82"/>
<line x1="414" y1="87.9" x2="573.2" y2="87.9" stroke="#6a6558" stroke-width="1.4"/>
<polygon points="436.2,37 431.95,44.4 440.45,44.4" fill="#0000E6" stroke="#0000E6" stroke-width="0.45" stroke-linejoin="round"/>
<polygon points="450.58,56.6 446.33,64.3 454.83,64.3" fill="#0000E6" stroke="#0000E6" stroke-width="0.45" stroke-linejoin="round"/>
<polygon points="464.96,62 460.71,68.9 469.21,68.9" fill="#0000E6" stroke="#0000E6" stroke-width="0.45" stroke-linejoin="round"/>
<polygon points="479.34,76.1 475.09,82.5 483.59,82.5" fill="#0000E6" stroke="#0000E6" stroke-width="0.45" stroke-linejoin="round"/>
<polygon points="489.47,86 497.97,86 493.72,92.4" fill="#0000E6" stroke="#0000E6" stroke-width="0.45" stroke-linejoin="round"/>
<polygon points="503.85,92.4 512.35,92.4 508.1,99.1" fill="#0000E6" stroke="#0000E6" stroke-width="0.45" stroke-linejoin="round"/>
<polygon points="518.23,103.3 526.73,103.3 522.48,109.7" fill="#0000E6" stroke="#0000E6" stroke-width="0.45" stroke-linejoin="round"/>
<polygon points="532.61,104.8 541.11,104.8 536.86,111.2" fill="#0000E6" stroke="#0000E6" stroke-width="0.45" stroke-linejoin="round"/>
<polygon points="546.99,115.6 555.49,115.6 551.24,122.5" fill="#0000E6" stroke="#0000E6" stroke-width="0.45" stroke-linejoin="round"/>
<polygon points="561.37,114 569.87,114 565.62,120.9" fill="#0000E6" stroke="#0000E6" stroke-width="0.45" stroke-linejoin="round"/>
<line x1="411" y1="176" x2="575" y2="176" stroke="#959595" stroke-width="1.5"/>
<rect x="427.3" y="238.4" width="12.8" height="20.6" fill="#efe9fd"/>
<text x="436.5" y="248.2" font-size="7.9" text-anchor="middle" fill="#111" stroke="#111" transform="rotate(-90 436.5 248.2)">2019</text>
<rect x="441.97" y="238.4" width="12.8" height="20.6" fill="#a893f7"/>
<text x="451.17" y="248.2" font-size="7.9" text-anchor="middle" fill="#111" stroke="#111" transform="rotate(-90 451.17 248.2)">2018</text>
<rect x="456.64" y="238.4" width="12.8" height="20.6" fill="#f8a083"/>
<text x="465.84" y="248.2" font-size="7.9" text-anchor="middle" fill="#111" stroke="#111" transform="rotate(-90 465.84 248.2)">2020</text>
<rect x="471.31" y="238.4" width="12.8" height="20.6" fill="#fbcabb"/>
<text x="480.51" y="248.2" font-size="7.9" text-anchor="middle" fill="#111" stroke="#111" transform="rotate(-90 480.51 248.2)">2021</text>
<rect x="485.98" y="238.4" width="12.8" height="20.6" fill="#f9a68a"/>
<text x="495.18" y="248.2" font-size="7.9" text-anchor="middle" fill="#111" stroke="#111" transform="rotate(-90 495.18 248.2)">2016</text>
<rect x="500.65" y="238.4" width="12.8" height="20.6" fill="#e4d9fc"/>
<text x="509.85" y="248.2" font-size="7.9" text-anchor="middle" fill="#111" stroke="#111" transform="rotate(-90 509.85 248.2)">2014</text>
<rect x="515.32" y="238.4" width="12.8" height="20.6" fill="#b49ff8"/>
<text x="524.52" y="248.2" font-size="7.9" text-anchor="middle" fill="#111" stroke="#111" transform="rotate(-90 524.52 248.2)">2013</text>
<rect x="529.99" y="238.4" width="12.8" height="20.6" fill="#f98c66"/>
<text x="539.19" y="248.2" font-size="7.9" text-anchor="middle" fill="#111" stroke="#111" transform="rotate(-90 539.19 248.2)">2017</text>
<rect x="544.66" y="238.4" width="12.8" height="20.6" fill="#f4f0fe"/>
<text x="553.86" y="248.2" font-size="7.9" text-anchor="middle" fill="#111" stroke="#111" transform="rotate(-90 553.86 248.2)">2015</text>
<rect x="559.33" y="238.4" width="12.8" height="20.6" fill="#bca9f8"/>
<text x="568.53" y="248.2" font-size="7.9" text-anchor="middle" fill="#111" stroke="#111" transform="rotate(-90 568.53 248.2)">2012</text>
<circle cx="433.7" cy="221.8" r="2.6" fill="#17801A" stroke="#0a3a0a" stroke-width="0.6"/>
<circle cx="433.7" cy="172.6" r="2.6" fill="#00DDEE" stroke="#7a4040" stroke-width="0.6"/>
<path d="M429.6 189L437.8 189M430.8 186.1L436.6 191.9M433.7 184.9L433.7 193.1M436.6 186.1L430.8 191.9" stroke="#444" stroke-width="0.5" fill="none"/>
<circle cx="433.7" cy="189" r="0.9" fill="#000"/>
<circle cx="448.37" cy="221.3" r="2.6" fill="#17801A" stroke="#0a3a0a" stroke-width="0.6"/>
<circle cx="448.37" cy="169.4" r="2.6" fill="#00DDEE" stroke="#7a4040" stroke-width="0.6"/>
<path d="M444.27 188.5L452.47 188.5M445.47 185.6L451.27 191.4M448.37 184.4L448.37 192.6M451.27 185.6L445.47 191.4" stroke="#444" stroke-width="0.5" fill="none"/>
<circle cx="448.37" cy="188.5" r="0.9" fill="#000"/>
<circle cx="463.04" cy="191.2" r="2.6" fill="#17801A" stroke="#0a3a0a" stroke-width="0.6"/>
<circle cx="463.04" cy="179.4" r="2.6" fill="#00DDEE" stroke="#7a4040" stroke-width="0.6"/>
<path d="M458.94 191.2L467.14 191.2M460.14 188.3L465.94 194.1M463.04 187.1L463.04 195.3M465.94 188.3L460.14 194.1" stroke="#444" stroke-width="0.5" fill="none"/>
<circle cx="463.04" cy="191.2" r="0.9" fill="#000"/>
<circle cx="477.71" cy="149.7" r="2.6" fill="#17801A" stroke="#0a3a0a" stroke-width="0.6"/>
<circle cx="477.71" cy="180.8" r="2.6" fill="#00DDEE" stroke="#7a4040" stroke-width="0.6"/>
<path d="M473.61 173.1L481.81 173.1M474.81 170.2L480.61 176M477.71 169L477.71 177.2M480.61 170.2L474.81 176" stroke="#444" stroke-width="0.5" fill="none"/>
<circle cx="477.71" cy="173.1" r="0.9" fill="#000"/>
<circle cx="492.38" cy="160.9" r="2.6" fill="#17801A" stroke="#0a3a0a" stroke-width="0.6"/>
<circle cx="492.38" cy="176.6" r="2.6" fill="#00DDEE" stroke="#7a4040" stroke-width="0.6"/>
<path d="M488.28 174L496.48 174M489.48 171.1L495.28 176.9M492.38 169.9L492.38 178.1M495.28 171.1L489.48 176.9" stroke="#444" stroke-width="0.5" fill="none"/>
<circle cx="492.38" cy="174" r="0.9" fill="#000"/>
<circle cx="507.05" cy="160.6" r="2.6" fill="#17801A" stroke="#0a3a0a" stroke-width="0.6"/>
<circle cx="507.05" cy="177" r="2.6" fill="#00DDEE" stroke="#7a4040" stroke-width="0.6"/>
<path d="M502.95 172.3L511.15 172.3M504.15 169.4L509.95 175.2M507.05 168.2L507.05 176.4M509.95 169.4L504.15 175.2" stroke="#444" stroke-width="0.5" fill="none"/>
<circle cx="507.05" cy="172.3" r="0.9" fill="#000"/>
<circle cx="521.72" cy="181.5" r="2.6" fill="#17801A" stroke="#0a3a0a" stroke-width="0.6"/>
<circle cx="521.72" cy="174" r="2.6" fill="#00DDEE" stroke="#7a4040" stroke-width="0.6"/>
<path d="M517.62 170.6L525.82 170.6M518.82 167.7L524.62 173.5M521.72 166.5L521.72 174.7M524.62 167.7L518.82 173.5" stroke="#444" stroke-width="0.5" fill="none"/>
<circle cx="521.72" cy="170.6" r="0.9" fill="#000"/>
<circle cx="536.39" cy="162.6" r="2.6" fill="#17801A" stroke="#0a3a0a" stroke-width="0.6"/>
<circle cx="536.39" cy="179.4" r="2.6" fill="#00DDEE" stroke="#7a4040" stroke-width="0.6"/>
<path d="M532.29 162.6L540.49 162.6M533.49 159.7L539.29 165.5M536.39 158.5L536.39 166.7M539.29 159.7L533.49 165.5" stroke="#444" stroke-width="0.5" fill="none"/>
<circle cx="536.39" cy="162.6" r="0.9" fill="#000"/>
<circle cx="551.06" cy="142.8" r="2.6" fill="#17801A" stroke="#0a3a0a" stroke-width="0.6"/>
<circle cx="551.06" cy="179" r="2.6" fill="#00DDEE" stroke="#7a4040" stroke-width="0.6"/>
<path d="M546.96 166L555.16 166M548.16 163.1L553.96 168.9M551.06 161.9L551.06 170.1M553.96 163.1L548.16 168.9" stroke="#444" stroke-width="0.5" fill="none"/>
<circle cx="551.06" cy="166" r="0.9" fill="#000"/>
<circle cx="565.73" cy="165.2" r="2.6" fill="#17801A" stroke="#0a3a0a" stroke-width="0.6"/>
<circle cx="565.73" cy="171.3" r="2.6" fill="#00DDEE" stroke="#7a4040" stroke-width="0.6"/>
<path d="M561.63 168.5L569.83 168.5M562.83 165.6L568.63 171.4M565.73 164.4L565.73 172.6M568.63 165.6L562.83 171.4" stroke="#444" stroke-width="0.5" fill="none"/>
<circle cx="565.73" cy="168.5" r="0.9" fill="#000"/>
<rect x="528.59" y="13.7" width="15.8" height="246.2" rx="1" fill="none" stroke="#DA1212" stroke-width="1.5"/>
<text x="0.5" y="9.5" font-size="16" text-anchor="start" fill="#111" stroke="#111" style="stroke-width:0">a</text>
<text x="1" y="123.7" font-size="16" text-anchor="start" fill="#111" stroke="#111" style="stroke-width:0">b</text>
<text x="7.6" y="68.5" font-size="8.6" text-anchor="middle" fill="#1a1a1a" stroke="#1a1a1a" transform="rotate(-90 7.6 68.5)">v_Q [mm]</text>
<text x="8.9" y="184.4" font-size="8.6" text-anchor="middle" fill="#1a1a1a" stroke="#1a1a1a" transform="rotate(-90 8.9 184.4)">v_ET [mm], v_Icemelt [mm]</text>
<rect x="33.6" y="100.2" width="67.6" height="44.7" fill="#fff" stroke="#333" stroke-width="0.9"/>
<rect x="37.8" y="105.9" width="8.7" height="8.4" fill="#00EEEE"/>
<text x="49.2" y="113.9" font-size="8.8" text-anchor="start" fill="#111" stroke="#111">v_Icemelt</text>
<rect x="37.8" y="114.6" width="8.7" height="8.4" fill="#C1CDC1"/>
<text x="49.2" y="122.6" font-size="8.8" text-anchor="start" fill="#111" stroke="#111">v_Snowmelt</text>
<rect x="37.8" y="123.3" width="8.7" height="8.4" fill="#87CEFA"/>
<text x="49.2" y="131.3" font-size="8.8" text-anchor="start" fill="#111" stroke="#111">v_Rainfall_Q</text>
<rect x="37.8" y="132" width="8.7" height="8.4" fill="#EEDD82"/>
<text x="49.2" y="140" font-size="8.8" text-anchor="start" fill="#111" stroke="#111">v_Storage</text>
<rect x="101.2" y="111.1" width="49.4" height="33.6" fill="#fff" stroke="#333" stroke-width="0.9"/>
<path d="M102.3 119L110.5 119M103.5 116.1L109.3 121.9M106.4 114.9L106.4 123.1M109.3 116.1L103.5 121.9" stroke="#444" stroke-width="0.5" fill="none"/>
<circle cx="106.4" cy="119" r="0.9" fill="#000"/>
<circle cx="106.6" cy="128.7" r="2.6" fill="#00DDEE" stroke="#7a4040" stroke-width="0.6"/>
<circle cx="106.6" cy="138.3" r="2.6" fill="#17801A" stroke="#0a3a0a" stroke-width="0.6"/>
<text x="114.4" y="122.2" font-size="8.4" text-anchor="start" fill="#111" stroke="#111">v_Icemelt</text>
<text x="114.4" y="131.9" font-size="8.4" text-anchor="start" fill="#111" stroke="#111">v_ET</text>
<text x="114.4" y="141.5" font-size="8.4" text-anchor="start" fill="#111" stroke="#111">v_S</text>
<defs><linearGradient id="cb" x1="0" x2="1" y1="0" y2="0"><stop offset="0" stop-color="#2a14ff"/><stop offset="0.25" stop-color="#8d78fa"/><stop offset="0.5" stop-color="#ffffff"/><stop offset="0.75" stop-color="#ff9a80"/><stop offset="1" stop-color="#ff1a10"/></linearGradient></defs>
<rect x="296.3" y="262.5" width="45" height="9.1" fill="url(#cb)"/>
<text x="256.4" y="276.1" font-size="8.1" text-anchor="start" fill="#111" stroke="#111">v_Ta [°C]</text>
<text x="296.4" y="279.8" font-size="6.2" text-anchor="middle" fill="#222" stroke="#222" style="stroke-width:0.06px">-1.0</text>
<text x="307.6" y="279.8" font-size="6.2" text-anchor="middle" fill="#222" stroke="#222" style="stroke-width:0.06px">-0.5</text>
<text x="318.8" y="279.8" font-size="6.2" text-anchor="middle" fill="#222" stroke="#222" style="stroke-width:0.06px">0.0</text>
<text x="330" y="279.8" font-size="6.2" text-anchor="middle" fill="#222" stroke="#222" style="stroke-width:0.06px">0.5</text>
<text x="341.2" y="279.8" font-size="6.2" text-anchor="middle" fill="#222" stroke="#222" style="stroke-width:0.06px">1.0</text>
</svg>
</body></html>
